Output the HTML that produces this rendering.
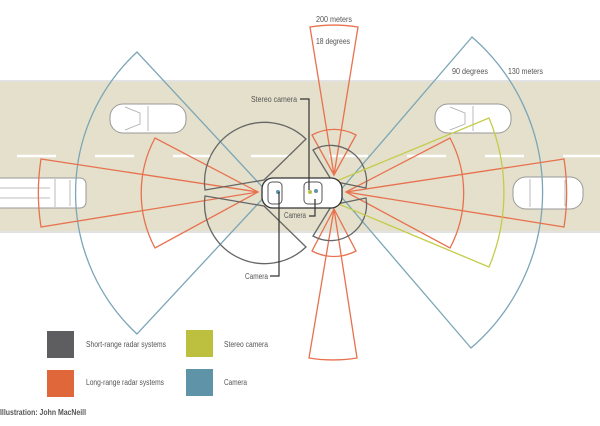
<!DOCTYPE html>
<html><head><meta charset="utf-8"><style>
html,body{margin:0;padding:0;background:#fff;}
svg{display:block;}
text{font-family:"Liberation Sans",sans-serif;fill:#555;}
</style></head><body>
<svg width="600" height="426" viewBox="0 0 600 426" xmlns="http://www.w3.org/2000/svg">
<rect x="0" y="79" width="600" height="155" fill="#ffffff"/>
<rect x="0" y="82" width="600" height="149" fill="#e4e0cb"/>
<line x1="0" y1="81" x2="600" y2="81" stroke="#d8d8d8" stroke-width="1.5"/>
<line x1="0" y1="232" x2="600" y2="232" stroke="#d8d8d8" stroke-width="1.5"/>
<g stroke="#fff" stroke-width="2.5">
<line x1="17" y1="156" x2="56" y2="156"/><line x1="95" y1="156" x2="134" y2="156"/>
<line x1="173" y1="156" x2="212" y2="156"/><line x1="251" y1="156" x2="290" y2="156"/>
<line x1="329" y1="156" x2="368" y2="156"/><line x1="407" y1="156" x2="446" y2="156"/>
<line x1="485" y1="156" x2="524" y2="156"/><line x1="563" y1="156" x2="600" y2="156"/>
</g>
<g fill="#fff" stroke="#999" stroke-width="1">
<rect x="110" y="104" width="76" height="29" rx="13"/>
<rect x="435" y="104" width="76" height="29" rx="13"/>
<rect x="-5" y="178" width="91" height="30" rx="6"/>
<rect x="513" y="177" width="70" height="32" rx="13"/>
</g>
<g fill="none" stroke="#aaa" stroke-width="0.8">
<path d="M125,107 L140,113 L140,124 L125,130"/><line x1="148" y1="106" x2="148" y2="131"/>
<path d="M450,107 L465,113 L465,124 L450,130"/><line x1="473" y1="106" x2="473" y2="131"/>
<line x1="55" y1="179" x2="55" y2="207"/><line x1="70" y1="180" x2="70" y2="206"/>
<line x1="530" y1="179" x2="530" y2="207"/><line x1="565" y1="180" x2="565" y2="206"/>
<line x1="0" y1="188" x2="50" y2="188"/><line x1="0" y1="198" x2="50" y2="198"/>
</g>
<g fill="none" stroke="#7ba6b7" stroke-width="1.3">
<path d="M268,193 L137,52 A192.5,192.5 0 0 0 137,334 Z"/>
<path d="M338,193 L472,37 A205.6,205.6 0 0 1 471,348 Z"/>
</g>
<g fill="none" stroke="#e8714f" stroke-width="1.3">
<path d="M258,192 L41,159 A219.6,219.6 0 0 0 41,227 Z"/>
<path d="M346,192 L564,159 A220.6,220.6 0 0 1 564,227 Z"/>
<path d="M258,192 L155,138 A116.5,116.5 0 0 0 155,248 Z"/>
<path d="M346,192 L450,138 A117.5,117.5 0 0 1 450,248 Z"/>
<path d="M334,175 L310,27 A150,150 0 0 1 358,27 Z"/>
<path d="M334,175 L312,135 A45.7,45.7 0 0 1 356,135 Z"/>
<path d="M334,209 L312,251 A47,47 0 0 0 356,251 Z"/>
<path d="M334,209 L309,358 A151,151 0 0 0 357,358 Z"/>
</g>
<g fill="none" stroke="#666" stroke-width="1.3">
<path d="M264,180 L306,139 A60,60 0 0 0 205,190 Z"/>
<path d="M264,206 L306,247 A60,60 0 0 1 205,196 Z"/>
<path d="M332,181 L313,150 A36,36 0 0 1 366,188 Z"/>
<path d="M332,205 L366,198 A36,36 0 0 1 313,236 Z"/>
</g>
<path d="M310,192 L489,118 A193.5,193.5 0 0 1 489,267 Z" fill="none" stroke="#c4cc4a" stroke-width="1.3"/>
<rect x="262" y="178" width="80" height="30" rx="11" fill="#fff" stroke="#333" stroke-width="1.3"/>
<rect x="268" y="182" width="14" height="22" rx="4" fill="none" stroke="#555" stroke-width="1"/>
<rect x="304" y="182" width="18" height="22" rx="4" fill="none" stroke="#555" stroke-width="1"/>
<circle cx="278" cy="192" r="2" fill="#5f93a8"/><circle cx="316" cy="191" r="2" fill="#5f93a8"/>
<circle cx="310" cy="192" r="2" fill="#bdc03f"/>
<g fill="none" stroke="#333" stroke-width="1.2">
<path d="M300,99 L309,99 L309,190"/>
<path d="M309,216 L315,216 L315,199"/>
<path d="M270,276 L279,276 L279,192"/>
</g>
<g font-size="8">
<text x="251" y="102" textLength="46" lengthAdjust="spacingAndGlyphs">Stereo camera</text>
<text x="284" y="218" textLength="22" lengthAdjust="spacingAndGlyphs">Camera</text>
<text x="245" y="279" textLength="23" lengthAdjust="spacingAndGlyphs">Camera</text>
<text x="316" y="22" textLength="36" lengthAdjust="spacingAndGlyphs">200 meters</text>
<text x="316" y="44" textLength="34" lengthAdjust="spacingAndGlyphs">18 degrees</text>
<text x="452" y="74" textLength="36" lengthAdjust="spacingAndGlyphs">90 degrees</text>
<text x="508" y="74" textLength="35" lengthAdjust="spacingAndGlyphs">130 meters</text>
</g>
<rect x="47" y="331" width="27" height="27" fill="#5e5e60"/>
<rect x="47" y="370" width="27" height="27" fill="#e0673a"/>
<rect x="186" y="330" width="27" height="27" fill="#bdc03f"/>
<rect x="186" y="369" width="27" height="27" fill="#5f93a8"/>
<g font-size="8">
<text x="86" y="347" textLength="80" lengthAdjust="spacingAndGlyphs">Short-range radar systems</text>
<text x="86" y="385" textLength="78" lengthAdjust="spacingAndGlyphs">Long-range radar systems</text>
<text x="224" y="347" textLength="44" lengthAdjust="spacingAndGlyphs">Stereo camera</text>
<text x="224" y="385" textLength="23" lengthAdjust="spacingAndGlyphs">Camera</text>
</g>
<text x="0" y="415" font-size="8" font-weight="bold" fill="#222" textLength="86" lengthAdjust="spacingAndGlyphs">Illustration: John MacNeill</text>
</svg>
</body></html>
